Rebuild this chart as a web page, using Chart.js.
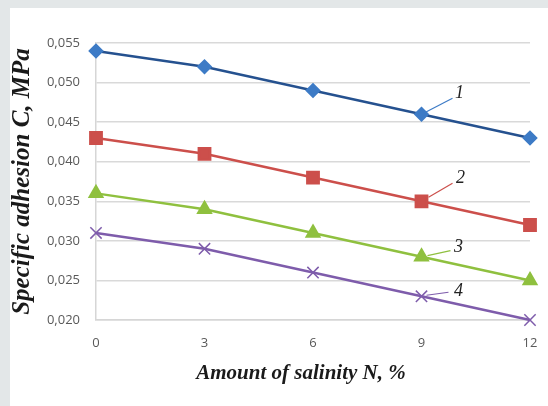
<!DOCTYPE html>
<html>
<head>
<meta charset="utf-8">
<script src="https://cdn.jsdelivr.net/npm/chart.js@4.4.0/dist/chart.umd.min.js"></script>
<style>
  html, body { margin: 0; padding: 0; background: #e3e7e8; }
  #panel { position: absolute; left: 10px; top: 8px; width: 538px; height: 398px; background: #fff; }
</style>
</head>
<body>
<div id="panel"><canvas id="chart" width="538" height="398"></canvas></div>
<script>
// ── Data ──
const salinity = [0, 3, 6, 9, 12];
const curve1 = [0.054, 0.052, 0.049, 0.046, 0.043];
const curve2 = [0.043, 0.041, 0.038, 0.035, 0.032];
const curve3 = [0.036, 0.034, 0.031, 0.028, 0.025];
const curve4 = [0.031, 0.029, 0.026, 0.023, 0.020];
const curveNames = ['1', '2', '3', '4'];
const yTicks = [0.020, 0.025, 0.030, 0.035, 0.040, 0.045, 0.050, 0.055];
const xTitle = 'Amount of salinity N, %';

const toPts = arr => arr.map((v, i) => ({ x: salinity[i], y: v }));

// leader line + label offsets from the point at x = 9 (pixels)
const callouts = [
  { from: [4, -2], to: [31, -16], text: [38, -21] },
  { from: [7, -4], to: [31, -18], text: [39, -23] },
  { from: [6, -1], to: [29, -6], text: [37, -9] },
  { from: [5, -1], to: [27, -4], text: [37, -5] },
];

const calloutPlugin = {
  id: 'callouts',
  afterDatasetsDraw(chart) {
    const ctx = chart.ctx;
    ctx.save();
    chart.data.datasets.forEach((ds, i) => {
      const pt = chart.getDatasetMeta(i).data[3];
      const c = callouts[i];
      ctx.strokeStyle = ds.pointBackgroundColor;
      ctx.lineWidth = 1.2;
      ctx.beginPath();
      ctx.moveTo(pt.x + c.from[0], pt.y + c.from[1]);
      ctx.lineTo(pt.x + c.to[0], pt.y + c.to[1]);
      ctx.stroke();
      ctx.fillStyle = '#222';
      ctx.font = 'italic 18px "Liberation Serif", serif';
      ctx.textAlign = 'center';
      ctx.textBaseline = 'middle';
      ctx.fillText(curveNames[i], pt.x + c.text[0], pt.y + c.text[1]);
    });

    // x axis title, sits a bit left of the plot centre
    const a = chart.chartArea;
    ctx.fillStyle = '#1a1a1a';
    ctx.font = 'italic bold 21px "Liberation Serif", serif';
    ctx.textAlign = 'center';
    ctx.textBaseline = 'middle';
    ctx.fillText(xTitle, (a.left + a.right) / 2 - 12, a.bottom + 54);
    ctx.restore();
  }
};

const tickFont = { family: '"Open Sans", sans-serif', size: 13 };
const yTitleFont = { family: '"Liberation Serif", serif', size: 25, style: 'italic', weight: 'bold', lineHeight: 1 };

new Chart(document.getElementById('chart'), {
  type: 'line',
  data: {
    datasets: [
      { data: toPts(curve1), borderColor: '#25518f', pointBackgroundColor: '#3d7bc6', pointBorderColor: '#3d7bc6', pointStyle: 'rectRot', pointRadius: 6 },
      { data: toPts(curve2), borderColor: '#cc4f4b', pointBackgroundColor: '#cc4f4b', pointBorderColor: '#cc4f4b', pointStyle: 'rect', pointRadius: 8 },
      { data: toPts(curve3), borderColor: '#8fc03f', pointBackgroundColor: '#8fc03f', pointBorderColor: '#8fc03f', pointStyle: 'triangle', pointRadius: 7 },
      { data: toPts(curve4), borderColor: '#7e5cab', pointBackgroundColor: '#7e5cab', pointBorderColor: '#7e5cab', pointStyle: 'crossRot', pointRadius: 8, pointBorderWidth: 1.5 },
    ].map(d => Object.assign({ borderWidth: 2.5, tension: 0, fill: false, clip: false }, d))
  },
  options: {
    responsive: false,
    animation: false,
    layout: { padding: { left: 0, top: 35, right: 18, bottom: 0 } },
    plugins: { legend: { display: false }, tooltip: { enabled: false } },
    scales: {
      x: {
        type: 'linear', min: 0, max: 12,
        afterBuildTicks: s => { s.ticks = salinity.map(v => ({ value: v })); },
        afterFit: s => { s.height = 86; s.paddingLeft = 0; s.paddingRight = 0; },
        grid: { display: false, drawTicks: false },
        border: { display: true, color: '#d6d6d6', width: 1.5 },
        ticks: { color: '#595959', font: tickFont, padding: 15, maxRotation: 0 }
      },
      y: {
        min: 0.020, max: 0.055,
        afterBuildTicks: s => { s.ticks = yTicks.map(v => ({ value: v })); },
        afterFit: s => { s.width = 86; s.paddingTop = 0; s.paddingBottom = 0; },
        grid: { color: '#d9d9d9', lineWidth: 1.5, drawTicks: false },
        border: { display: true, color: '#d6d6d6', width: 1.5 },
        ticks: { color: '#595959', font: tickFont, padding: 16, callback: v => v.toFixed(3).replace('.', ',') },
        title: { display: true, text: 'Specific adhesion C, MPa', color: '#1a1a1a', font: yTitleFont, padding: { top: 0, bottom: 0 } }
      }
    }
  },
  plugins: [calloutPlugin]
});
</script>
</body>
</html>
